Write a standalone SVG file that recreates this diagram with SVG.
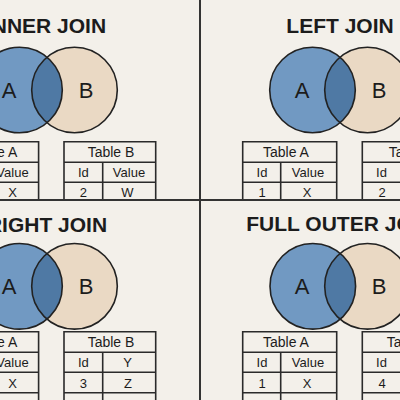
<svg xmlns="http://www.w3.org/2000/svg" width="400" height="400" viewBox="0 0 400 400">
<style>
.bg{fill:#f3f0ea}
.ca{fill:#7199c2}
.cb{fill:#ead9c4}
.lens{fill:#4f79a4}
.ring{fill:none;stroke:#222;stroke-width:1.6}
.title{font-family:"Liberation Sans",Arial,sans-serif;font-weight:bold;font-size:21px;fill:#1c1c1c;text-anchor:middle}
.lbl{font-family:"Liberation Sans",Arial,sans-serif;font-size:22px;fill:#1c1c1c;text-anchor:middle}
.th{font-family:"Liberation Sans",Arial,sans-serif;font-size:14px;fill:#1c1c1c;text-anchor:middle}
.td{font-family:"Liberation Sans",Arial,sans-serif;font-size:13px;fill:#1c1c1c;text-anchor:middle}
.tbl{fill:none;stroke:#2a2a2a;stroke-width:1.6}
.div{stroke:#333;stroke-width:2}
</style>
<rect class="bg" x="0" y="0" width="400" height="400"/>

<g id="inner-join">
<text class="title" x="46" y="33">INNER JOIN</text>
<circle class="ca" cx="19.5" cy="90" r="42.8"/>
<circle class="cb" cx="74.5" cy="90" r="42.8"/>
<path class="lens" d="M47 57.3 A42.8 42.8 0 0 1 47 122.7 A42.8 42.8 0 0 1 47 57.3Z"/>
<circle class="ring" cx="19.5" cy="90" r="42.8"/>
<circle class="ring" cx="74.5" cy="90" r="42.8"/>
<text class="lbl" x="9" y="98">A</text>
<text class="lbl" x="86" y="98">B</text>
<g id="inner-table-a">
<path class="tbl" d="M-56 141.7H38.6V200M-56 162.3H38.6M-56 182.3H38.6M-17.6 162.3V200"/>
<text class="th" x="-5.7" y="157.3">Table A</text>
<text class="td" x="12.5" y="176.7">Value</text>
<text class="td" x="12.5" y="196.7">X</text>
</g>
<g id="inner-table-b">
<path class="tbl" d="M64 200V141.7H155.7V200M64 162.3H155.7M64 182.3H155.7M102.7 162.3V200"/>
<text class="th" x="111" y="157.3">Table B</text>
<text class="td" x="83.3" y="176.7">Id</text>
<text class="td" x="129" y="176.7">Value</text>
<text class="td" x="83.3" y="196.7">2</text>
<text class="td" x="127.5" y="196.7">W</text>
</g>
</g>

<g id="left-join">
<text class="title" x="340" y="33">LEFT JOIN</text>
<circle class="ca" cx="312.5" cy="90" r="42.8"/>
<circle class="cb" cx="367.5" cy="90" r="42.8"/>
<path class="lens" d="M340 57.3 A42.8 42.8 0 0 1 340 122.7 A42.8 42.8 0 0 1 340 57.3Z"/>
<circle class="ring" cx="312.5" cy="90" r="42.8"/>
<circle class="ring" cx="367.5" cy="90" r="42.8"/>
<text class="lbl" x="302" y="98">A</text>
<text class="lbl" x="379" y="98">B</text>
<g id="left-table-a">
<path class="tbl" d="M242.7 200V141.7H336.7V200M242.7 162.3H336.7M242.7 182.3H336.7M280.7 162.3V200"/>
<text class="th" x="286" y="157.3">Table A</text>
<text class="td" x="262" y="176.7">Id</text>
<text class="td" x="308" y="176.7">Value</text>
<text class="td" x="262" y="196.7">1</text>
<text class="td" x="307" y="196.7">X</text>
</g>
<g id="left-table-b">
<path class="tbl" d="M362.3 200V141.7H460M362.3 162.3H460M362.3 182.3H460"/>
<text class="th" x="412" y="157.3">Table B</text>
<text class="td" x="381.5" y="176.7">Id</text>
<text class="td" x="382" y="196.7">2</text>
</g>
</g>

<g id="right-join">
<text class="title" x="47" y="232">RIGHT JOIN</text>
<circle class="ca" cx="19.5" cy="286.3" r="42.8"/>
<circle class="cb" cx="74.5" cy="286.3" r="42.8"/>
<path class="lens" d="M47 253.6 A42.8 42.8 0 0 1 47 319 A42.8 42.8 0 0 1 47 253.6Z"/>
<circle class="ring" cx="19.5" cy="286.3" r="42.8"/>
<circle class="ring" cx="74.5" cy="286.3" r="42.8"/>
<text class="lbl" x="9" y="294.3">A</text>
<text class="lbl" x="86" y="294.3">B</text>
<g id="right-table-a">
<path class="tbl" d="M-56 331.7H38.6V400M-56 352.3H38.6M-56 372.3H38.6M-56 392.8H38.6M-17.6 352.3V400"/>
<text class="th" x="-5.7" y="347.3">Table A</text>
<text class="td" x="12.5" y="367.3">Value</text>
<text class="td" x="12.5" y="388">X</text>
</g>
<g id="right-table-b">
<path class="tbl" d="M64 400V331.7H155.7V400M64 352.3H155.7M64 372.3H155.7M64 392.8H155.7M102.7 352.3V400"/>
<text class="th" x="111" y="347.3">Table B</text>
<text class="td" x="83.3" y="367.3">Id</text>
<text class="td" x="127.5" y="367.3">Y</text>
<text class="td" x="83.3" y="388">3</text>
<text class="td" x="128" y="388">Z</text>
</g>
</g>

<g id="full-outer-join">
<text class="title" x="340" y="231">FULL OUTER JOIN</text>
<circle class="ca" cx="312.8" cy="286.3" r="42.8"/>
<circle class="cb" cx="367.5" cy="286.3" r="42.8"/>
<path class="lens" d="M340.15 253.6 A42.8 42.8 0 0 1 340.15 319 A42.8 42.8 0 0 1 340.15 253.6Z"/>
<circle class="ring" cx="312.8" cy="286.3" r="42.8"/>
<circle class="ring" cx="367.5" cy="286.3" r="42.8"/>
<text class="lbl" x="302" y="294.3">A</text>
<text class="lbl" x="379" y="294.3">B</text>
<g id="full-table-a">
<path class="tbl" d="M242.7 400V331.7H336.7V400M242.7 352.3H336.7M242.7 372.3H336.7M242.7 392.8H336.7M280.7 352.3V400"/>
<text class="th" x="286" y="347.3">Table A</text>
<text class="td" x="262" y="367.3">Id</text>
<text class="td" x="308" y="367.3">Value</text>
<text class="td" x="262" y="388">1</text>
<text class="td" x="307" y="388">X</text>
</g>
<g id="full-table-b">
<path class="tbl" d="M362.3 400V331.7H460M362.3 352.3H460M362.3 372.3H460M362.3 392.8H460"/>
<text class="th" x="410" y="347.3">Table B</text>
<text class="td" x="381.5" y="367.3">Id</text>
<text class="td" x="382" y="388">4</text>
</g>
</g>

<g id="connectors">
<line class="div" x1="200" y1="0" x2="200" y2="400"/>
<line class="div" x1="0" y1="200" x2="400" y2="200"/>
</g>
</svg>
